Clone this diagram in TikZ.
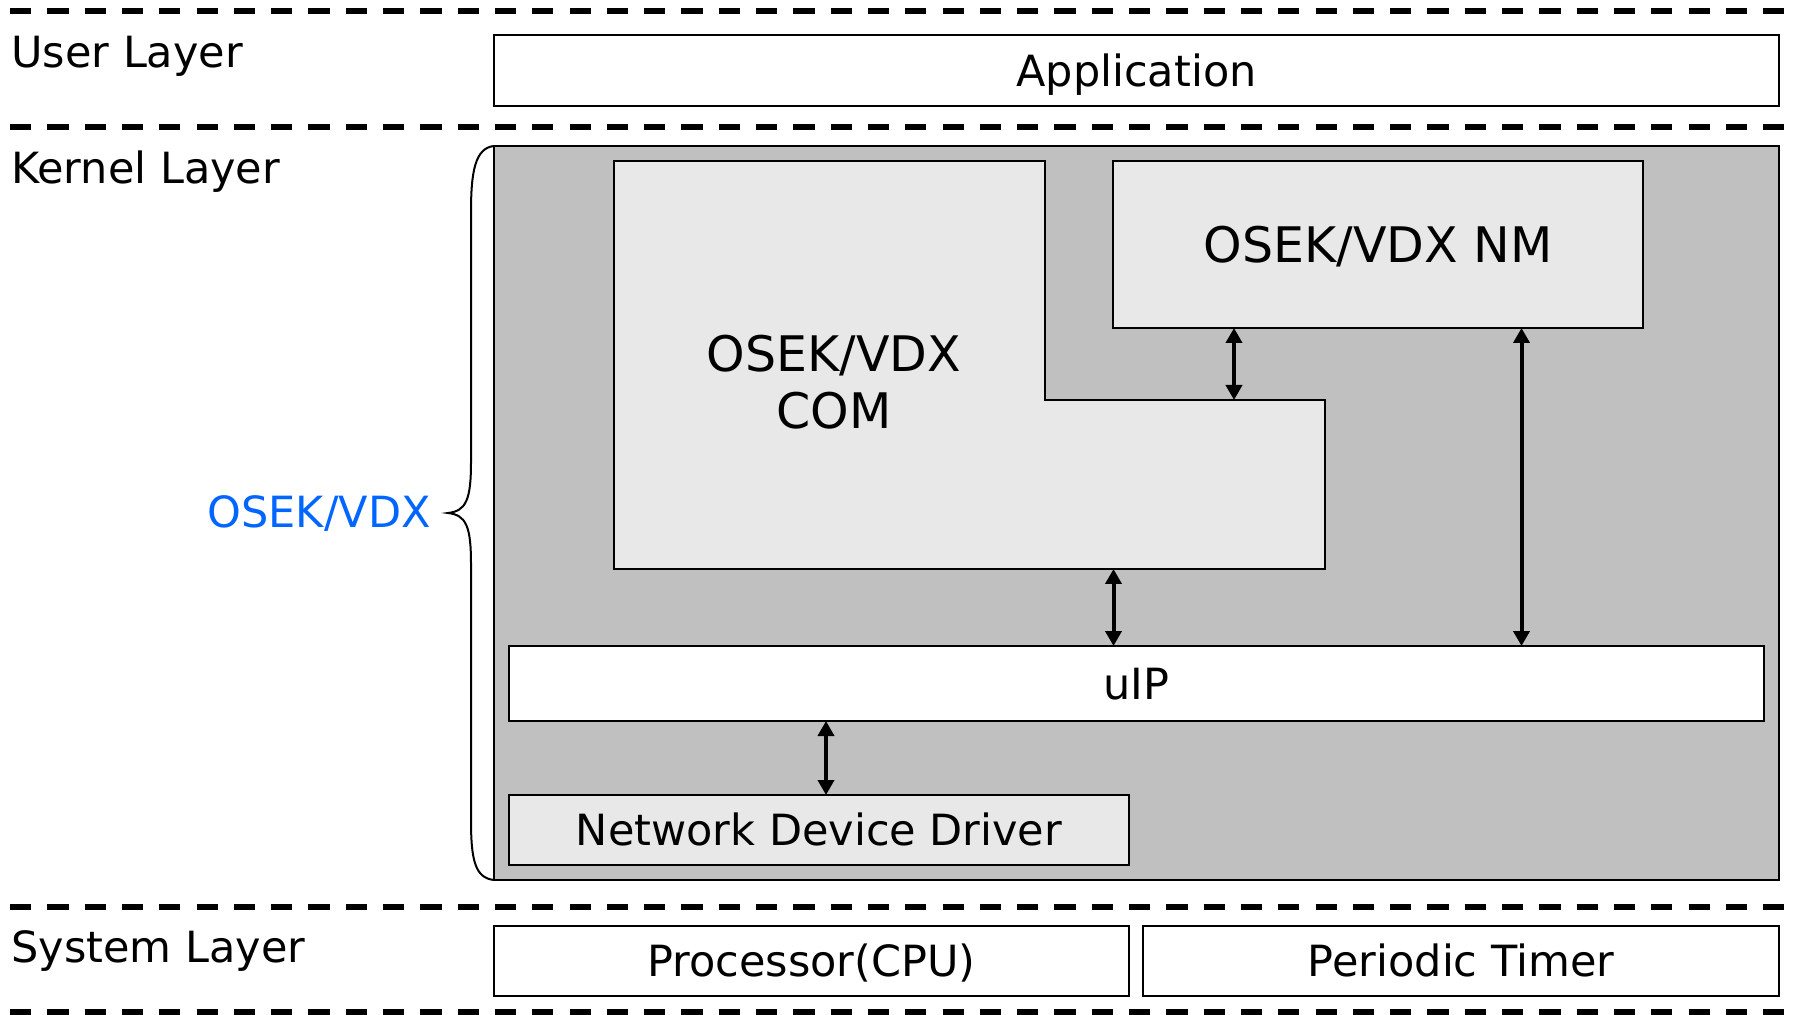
\documentclass[tikz,border=0pt]{standalone}
\usepackage{fontspec}
\setmainfont{DejaVu Sans}
\usetikzlibrary{arrows.meta}
\definecolor{kgray}{RGB}{192,192,192}
\definecolor{lgray}{RGB}{232,232,232}
\definecolor{oblue}{RGB}{0,102,255}
\begin{document}
\begin{tikzpicture}[x=0.5pt,y=-0.5pt,
  dline/.style={line width=2.6pt, dash pattern=on 10.6pt off 8.05pt},
  box/.style={draw=black, line width=1.4pt, fill=white, inner sep=0pt, outer sep=0pt,
    text height=15.7pt, text depth=0pt, font=\fontsize{21.5}{26}\selectfont},
  lbox/.style={box, fill=lgray},
  bigbox/.style={box, fill=lgray, text height=17.9pt, font=\fontsize{24.5}{28.5}\selectfont},
  lbl/.style={inner sep=0pt, font=\fontsize{21.5}{26}\selectfont},
  dar/.style={line width=2pt, {Triangle[length=7.5pt,width=8pt]}-{Triangle[length=7.5pt,width=8pt]}},
  brace/.style={line width=1pt}
]
\useasboundingbox (0,0) rectangle (1793,1015);

% layer separators
\draw[dline] (10,11) -- (1793,11);
\draw[dline] (10,127) -- (1793,127);
\draw[dline] (10,907) -- (1793,907);
\draw[dline] (10,1012) -- (1793,1012);

% layer labels
\node[lbl, anchor=base west] (user) at (11,68) {User Layer};
\node[lbl, anchor=base west] (kern) at (11,184) {Kernel Layer};
\node[lbl, anchor=base west] (sys) at (11,962) {System Layer};

% user layer
\node[box, minimum width=642.5pt, minimum height=35.5pt] (app) at (1136.5,70.5) {Application};

% kernel layer
\node[box, fill=kgray, minimum width=642.5pt, minimum height=367pt] (kernel) at (1136.5,513) {};

\draw[line width=1.4pt, fill=lgray] (614,161) -- (1045,161) -- (1045,400) -- (1325,400)
  -- (1325,569) -- (614,569) -- cycle;
\node[inner sep=0pt, align=center, font=\fontsize{24.5}{28.5}\selectfont] (com) at (834,382) {OSEK/VDX\\COM};
\coordinate (comstep) at (1185,400);
\coordinate (combot) at (970,569);

\node[bigbox, minimum width=265pt, minimum height=83.5pt] (nm) at (1378,244.5) {OSEK/VDX NM};
\node[box, minimum width=627.5pt, minimum height=37.5pt] (uip) at (1136.5,683.5) {uIP};
\node[lbox, minimum width=310pt, minimum height=35pt] (ndd) at (819,830) {Network Device Driver};

% connectors
\coordinate (c1) at (1234,0);
\coordinate (c2) at (1521.5,0);
\coordinate (c3) at (1113.5,0);
\coordinate (c4) at (826,0);
\draw[dar] (nm.south -| c1) -- (comstep -| c1);
\draw[dar] (nm.south -| c2) -- (uip.north -| c2);
\draw[dar] (combot -| c3) -- (uip.north -| c3);
\draw[dar] (uip.south -| c4) -- (ndd.north -| c4);

% brace
\coordinate (tip) at (448,513);
\draw[brace] (kernel.north west) .. controls (475,148) and (471,172) .. (471,212)
  -- (471,462) .. controls (471,500) and (466,511) .. (tip)
  .. controls (466,515) and (471,526) .. (471,564)
  -- (471,820) .. controls (471,860) and (475,878) .. (kernel.south west);
\node[lbl, text=oblue, anchor=base east] (osek) at (431,528) {OSEK/VDX};

% system layer
\node[box, minimum width=317.5pt, minimum height=35pt] (cpu) at (811.5,961) {Processor(CPU)};
\node[box, minimum width=318pt, minimum height=35pt] (timer) at (1461,961) {Periodic Timer};
\end{tikzpicture}
\end{document}
